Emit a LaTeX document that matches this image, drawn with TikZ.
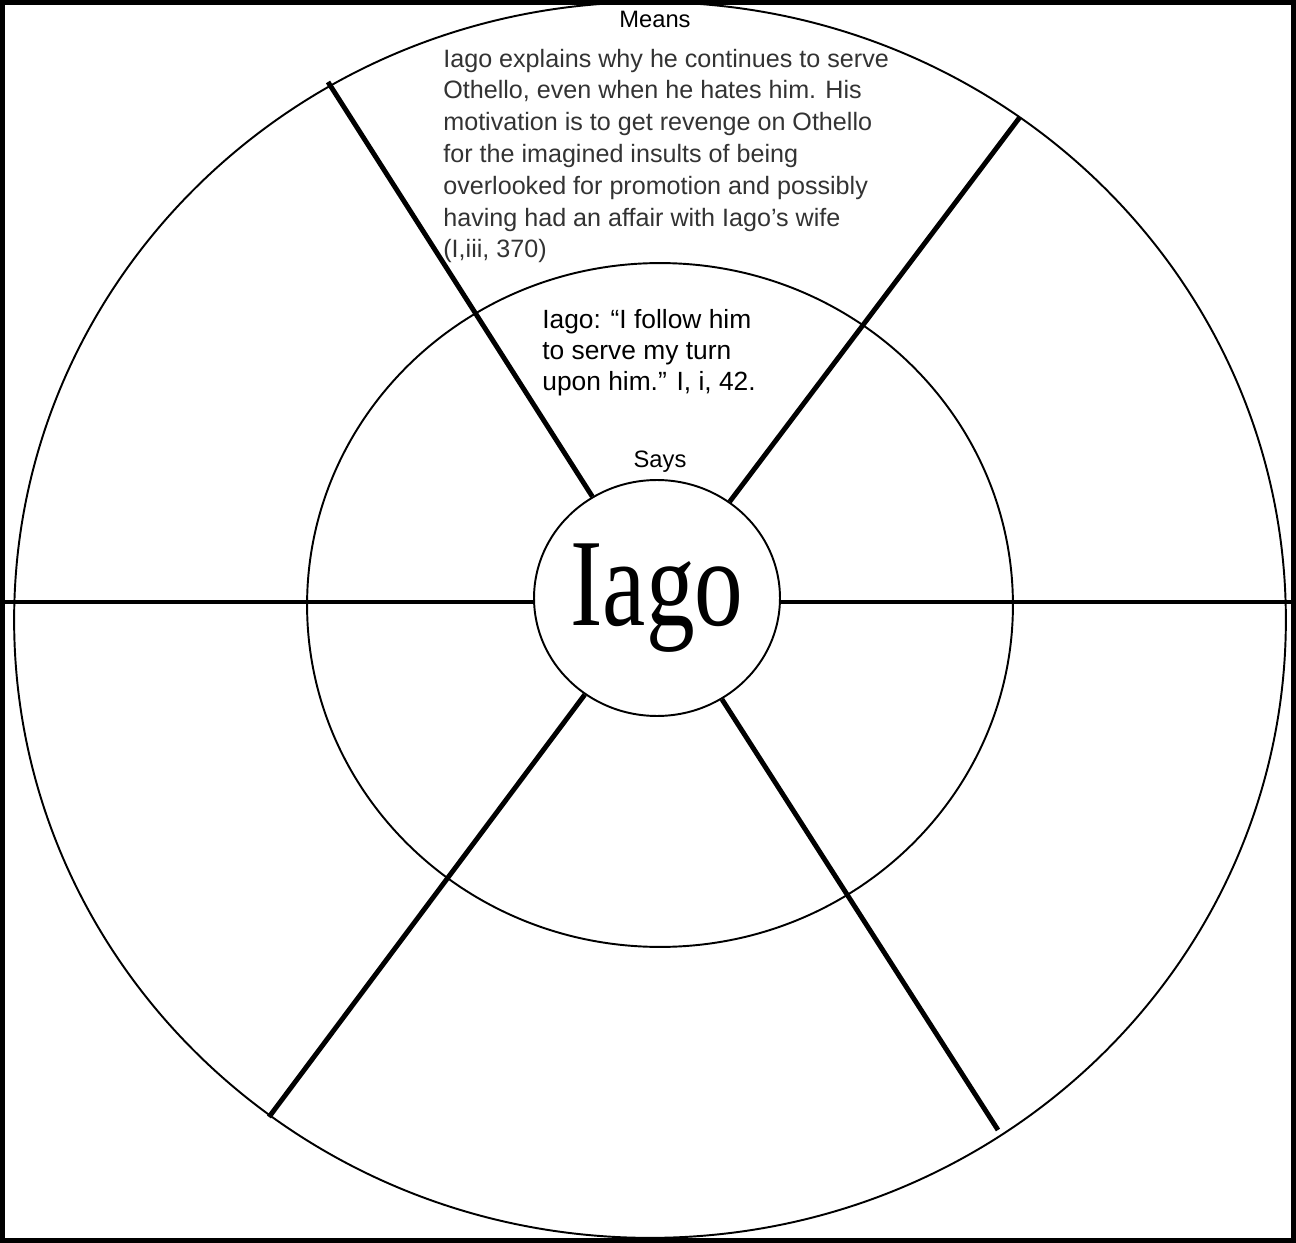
\documentclass[tikz,border=0pt]{standalone}
\usepackage{fontspec}
\usepackage{graphicx}
\setmainfont{Liberation Sans}
\newfontfamily\iagofont{Liberation Serif}
\usetikzlibrary{shapes.geometric}
\tikzset{
  ring/.style={draw=black, line width=1.1pt},
  spoke/.style={draw=black, line width=2.8pt},
  frame/.style={draw=black, line width=2.9pt},
  bodytext/.style={inner sep=0pt, align=left, text=black!80, font=\fontsize{14.3}{18.1}\selectfont},
  quotetext/.style={inner sep=0pt, align=left, text=black, font=\fontsize{15}{17.6}\selectfont},
  heading/.style={inner sep=0pt, text=black, font=\fontsize{13.5}{15}\selectfont},
  hub/.style={ellipse, draw=black, line width=1.1pt, inner sep=0pt, minimum width=4.92cm, minimum height=4.72cm}
}
\begin{document}
\begin{tikzpicture}[x=0.02cm, y=-0.02cm]
\useasboundingbox (0,0) rectangle (1296,1243);
\fill[white] (0,0) rectangle (1296,1243);
% rings
\draw[ring] (650,620) ellipse [x radius=12.72cm, y radius=12.36cm];
\draw[ring] (660,605) ellipse [x radius=7.06cm, y radius=6.84cm];
% hub
\node[hub, fill=white] (iago) at (657,598) {\iagofont\fontsize{71}{75}\selectfont\scalebox{0.78}[1]{Iago}};
% spoke ends
\coordinate (ul) at (328,82);
\coordinate (ur) at (1020,117);
\coordinate (ll) at (269,1117);
\coordinate (lr) at (998,1130);
\coordinate (hl) at (5,602);
\coordinate (hr) at (1291,602);
\draw[spoke] (iago) -- (ul);
\draw[spoke] (iago) -- (ur);
\draw[spoke] (iago) -- (ll);
\draw[spoke] (iago) -- (lr);
\draw[spoke] (hl) -- (hl -| iago.west);
\draw[spoke] (hr) -- (hr -| iago.east);
% frame
\draw[frame] (2.5,2.5) rectangle (1293.5,1240.5);
% texts
\node[heading] (means) at (655,19) {Means};
\node[bodytext, anchor=west] (meanstext) at (443,156) {Iago explains why he continues to serve\\Othello, even when he hates him. His\\motivation is to get revenge on Othello\\for the imagined insults of being\\overlooked for promotion and possibly\\having had an affair with Iago’s wife\\(I,iii, 370)};
\node[quotetext, anchor=west] (saystext) at (542,353) {Iago: “I follow him\\to serve my turn\\upon him.” I, i, 42.};
\node[heading] (says) at (660,462) {Says};
\end{tikzpicture}
\end{document}
